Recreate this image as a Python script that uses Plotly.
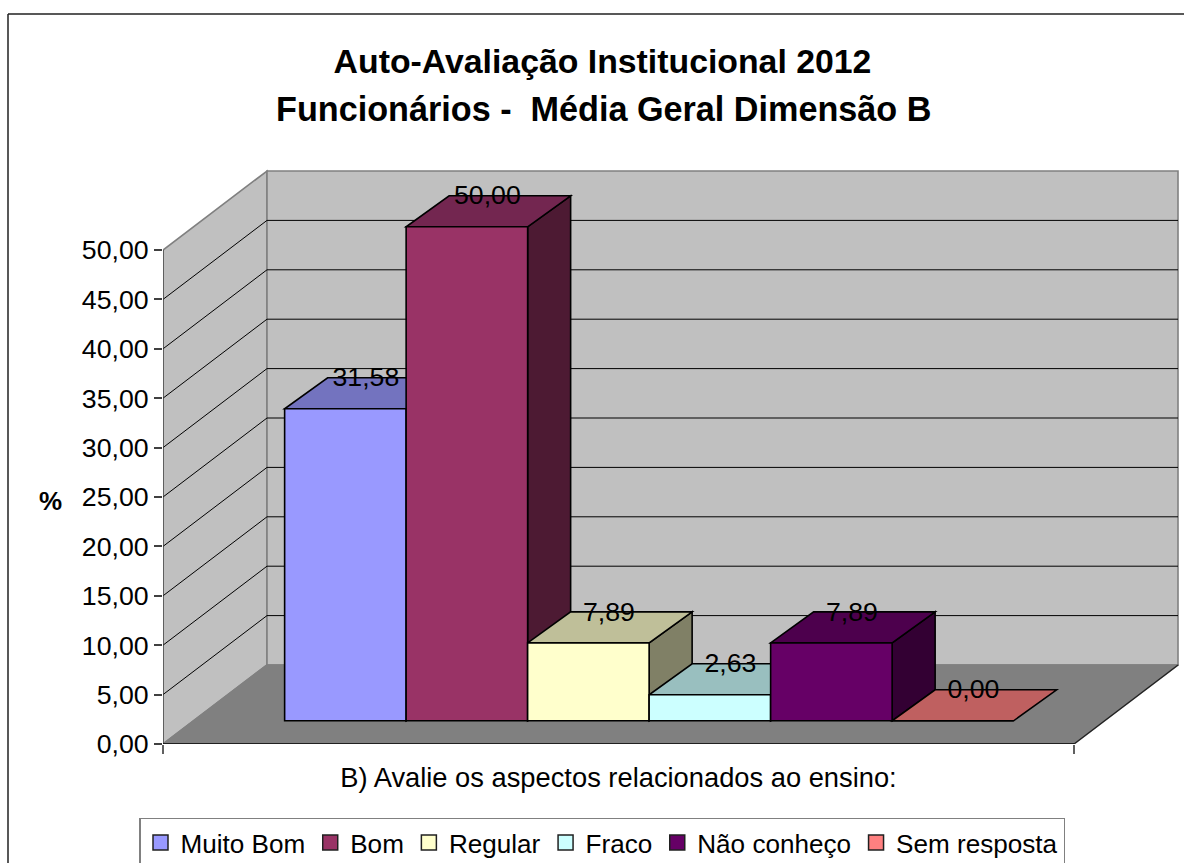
import plotly.graph_objects as go

title_line1 = "Auto-Avaliação Institucional 2012"
title_line2 = "Funcionários -  Média Geral Dimensão B"
category = ["B) Avalie os aspectos relacionados ao ensino:"]
series = ["Muito Bom", "Bom", "Regular", "Fraco", "Não conheço", "Sem resposta"]
values = [31.58, 50.00, 7.89, 2.63, 7.89, 0.00]
value_labels = ["31,58", "50,00", "7,89", "2,63", "7,89", "0,00"]
y_ticks = [0, 5, 10, 15, 20, 25, 30, 35, 40, 45, 50]
y_tick_labels = ["0,00", "5,00", "10,00", "15,00", "20,00", "25,00", "30,00", "35,00", "40,00", "45,00", "50,00"]
y_title = "%"

front = ["#9999FF", "#993366", "#FFFFCC", "#CCFFFF", "#660066", "#FF8080"]
top = ["#7373BF", "#732650", "#BFBF99", "#99BFBF", "#4D004D", "#BF6060"]
side = ["#4D4D80", "#4D1A33", "#808066", "#668080", "#330033", "#804040"]

FONT = "Liberation Sans"
FS = 26.7
W, H = 1184, 863
PX_X = 121.5   # pixels per bar width
PX_Y = 9.88    # pixels per value unit
L, R, T, B = 163, 5, 169, 119

# oblique depth, in axis units
WALL_DX, WALL_DY = 104 / PX_X, 79 / PX_Y
BAR_DX, BAR_DY = 43 / PX_X, 31 / PX_Y
BAR_OX, BAR_BASE = 30.5 / PX_X, 2.35
GAP = 0.75

x_left = -0.5 - GAP - BAR_OX
x_right = x_left + 911 / PX_X
x_range = [x_left, x_left + (W - L - R) / PX_X]
y_range = [0, (H - T - B) / PX_Y]
y_max = y_ticks[-1]


def poly(points, fill, line="black", width=1.6):
    path = "M" + " L".join(f"{x},{y}" for x, y in points) + " Z"
    return dict(type="path", path=path, xref="x", yref="y", layer="below",
                fillcolor=fill, line=dict(color=line, width=width))


def seg(a, b, color="black", width=1):
    return dict(type="line", xref="x", yref="y", layer="below",
                x0=a[0], y0=a[1], x1=b[0], y1=b[1], line=dict(color=color, width=width))


shapes = [
    poly([(x_left, 0), (x_left + WALL_DX, WALL_DY), (x_left + WALL_DX, y_max + WALL_DY), (x_left, y_max)],
         "#C0C0C0", "#808080"),
    poly([(x_left + WALL_DX, WALL_DY), (x_right + WALL_DX, WALL_DY),
          (x_right + WALL_DX, y_max + WALL_DY), (x_left + WALL_DX, y_max + WALL_DY)],
         "#C0C0C0", "#808080"),
    poly([(x_left, 0), (x_right, 0), (x_right + WALL_DX, WALL_DY), (x_left + WALL_DX, WALL_DY)],
         "#808080", "#808080"),
    seg((x_right, 0), (x_right + WALL_DX, WALL_DY), "#202020", 1.2),
]
for t in y_ticks[1:-1]:
    shapes.append(seg((x_left, t), (x_left + WALL_DX, t + WALL_DY)))
    shapes.append(seg((x_left + WALL_DX, t + WALL_DY), (x_right + WALL_DX, t + WALL_DY)))

for i, v in enumerate(values):
    xa, xb = i - 0.5, i + 0.5
    h = BAR_BASE + v
    if v > 0:
        shapes.append(poly([(xb, BAR_BASE), (xb + BAR_DX, BAR_BASE + BAR_DY),
                            (xb + BAR_DX, h + BAR_DY), (xb, h)], side[i]))
    shapes.append(poly([(xa, h), (xb, h), (xb + BAR_DX, h + BAR_DY), (xa + BAR_DX, h + BAR_DY)], top[i]))

fig = go.Figure()
for i, (name, v) in enumerate(zip(series, values)):
    fig.add_trace(go.Bar(x=[i], y=[v], base=[BAR_BASE], width=[1], name=name, showlegend=False,
                         marker=dict(color=front[i], line=dict(color="black", width=1.6))))
    fig.add_trace(go.Scatter(x=[None], y=[None], mode="markers", name=name,
                             marker=dict(symbol="square", size=15, color=front[i],
                                         line=dict(color="#202020", width=1.5))))

# axis lines
fig.add_trace(go.Scatter(x=[x_left, x_left], y=[0, y_max], mode="lines", cliponaxis=False, showlegend=False,
                         line=dict(color="#404040", width=1.2), hoverinfo="skip"))
fig.add_trace(go.Scatter(x=[x_left, x_right], y=[0, 0], mode="lines", cliponaxis=False, showlegend=False,
                         line=dict(color="black", width=1.5), hoverinfo="skip"))
# value labels
fig.add_trace(go.Scatter(
    x=[i + (BAR_DX * PX_X / 2 - 1) / PX_X for i in range(len(values))],
    y=[BAR_BASE + v + BAR_DY / 2 + 13.5 / PX_Y for v in values],
    mode="text", text=value_labels, textposition="middle center", cliponaxis=False, showlegend=False,
    textfont=dict(family=FONT, size=FS, color="black"), hoverinfo="skip"))

pf = lambda px: (px - L) / (W - L - R)
pg = lambda py: (H - B - py) / (H - T - B)

fig.add_annotation(xref="paper", yref="paper", x=pf(50), y=pg(501),
                   text=f"<b>{y_title}</b>", showarrow=False, xanchor="center", yanchor="middle",
                   font=dict(family=FONT, size=26, color="black"))
fig.add_annotation(xref="paper", yref="paper", x=pf(603.5), y=pg(109),
                   text=f"<b>{title_line2}</b>", showarrow=False, xanchor="center", yanchor="middle",
                   font=dict(family=FONT, size=34.2, color="black"))

# chart frame
shapes += [
    dict(type="line", xref="paper", yref="paper", x0=pf(8), x1=pf(W), y0=pg(14), y1=pg(14),
         line=dict(color="#202020", width=1.5), layer="above"),
    dict(type="line", xref="paper", yref="paper", x0=pf(8), x1=pf(8), y0=pg(14), y1=pg(H),
         line=dict(color="#202020", width=1.5), layer="above"),
]

fig.update_layout(
    width=W, height=H, margin=dict(l=L, r=R, t=T, b=B, autoexpand=False), autosize=False,
    paper_bgcolor="white", plot_bgcolor="rgba(0,0,0,0)",
    barmode="overlay", shapes=shapes, hovermode=False,
    font=dict(family=FONT, size=FS, color="black"),
    title=dict(text=f"<b>{title_line1}</b>", x=602.5 / W, xanchor="center", xref="container",
               y=1 - 61 / H, yanchor="middle", yref="container",
               font=dict(family=FONT, size=33.8, color="black")),
    xaxis=dict(range=x_range, tickmode="array", tickvals=[(x_left + x_right) / 2], ticktext=category,
               ticks="", showgrid=False, zeroline=False, showline=False,
               ticklabelstandoff=15, tickfont=dict(family=FONT, size=27.3, color="black"),
               minor=dict(tickmode="array", tickvals=[x_left, x_right], ticks="outside", ticklen=9,
                          tickcolor="#606060", tickwidth=1.5, showgrid=False)),
    yaxis=dict(range=y_range, tickmode="array", tickvals=y_ticks, ticktext=y_tick_labels,
               ticks="outside", ticklen=8, tickcolor="#404040", tickwidth=1.5,
               showgrid=False, zeroline=False, showline=False,
               tickfont=dict(family=FONT, size=FS, color="black")),
    legend=dict(orientation="h", x=pf(139), y=pg(817.5), xanchor="left", yanchor="top",
                bgcolor="white", bordercolor="#808080", borderwidth=1.5,
                font=dict(family=FONT, size=26.1, color="black"), itemsizing="trace"),
)

fig.write_html("out.html", config={"displayModeBar": False},
               post_script="document.body.style.margin='0';document.documentElement.style.overflow='hidden';")
